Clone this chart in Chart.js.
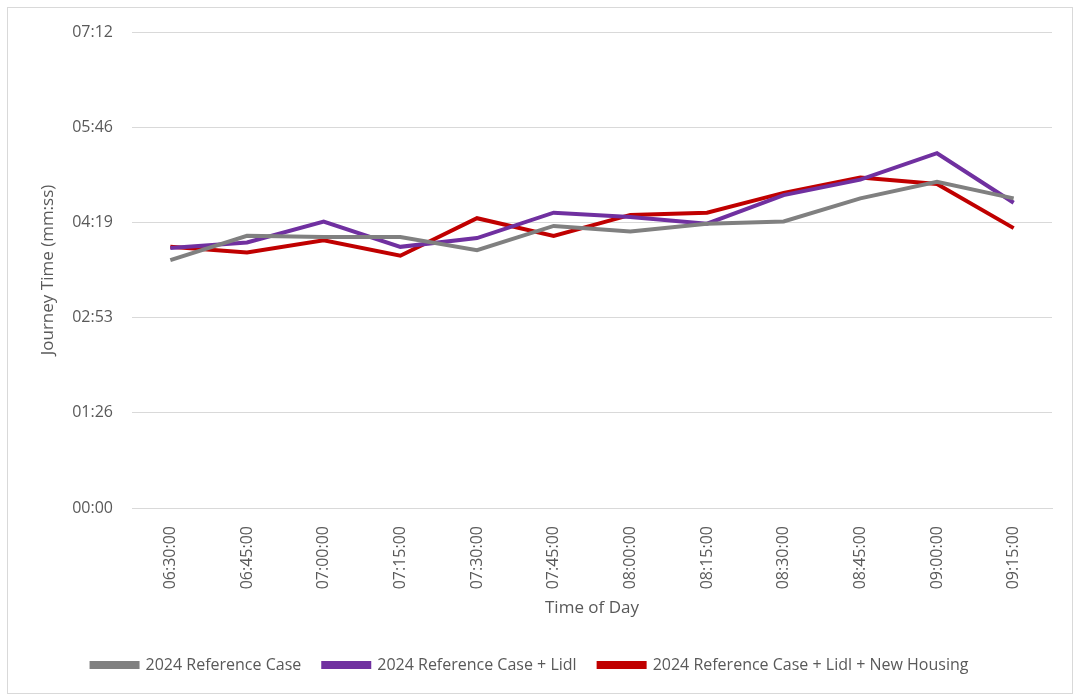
<!DOCTYPE html>
<html>
<head>
<meta charset="utf-8">
<script src="https://cdn.jsdelivr.net/npm/chart.js@4.4.1/dist/chart.umd.min.js"></script>
<style>
  html, body { margin: 0; padding: 0; background: #fff; }
  #frame {
    position: absolute; left: 7px; top: 7px;
    width: 1064px; height: 685px;
    border: 1px solid #d9d9d9;
  }
  #chart { display: block; }
</style>
</head>
<body>
<div id="frame"><canvas id="chart" width="1064" height="685"></canvas></div>
<script>
// 時間帯
var timeLabels = ['06:30:00', '06:45:00', '07:00:00', '07:15:00', '07:30:00', '07:45:00',
                  '08:00:00', '08:15:00', '08:30:00', '08:45:00', '09:00:00', '09:15:00'];

// 所要時間（秒）
var refCase = [225, 247, 246, 246, 234, 256, 251, 258, 260, 281, 296, 281];
var refLidl = [236, 241, 260, 237, 245, 268, 264, 258, 284, 298, 322, 277];
var refLidlHousing = [237, 232, 243, 229, 263, 247, 266, 268, 286, 300, 294, 254];

// 縦軸の目盛（秒） 0.001日刻み
var yTicks = [0, 86.4, 172.8, 259.2, 345.6, 432];
var yTickLabels = ['00:00', '01:26', '02:53', '04:19', '05:46', '07:12'];

var tickFont = { family: 'Open Sans', size: 16 };
var titleFont = { family: 'Open Sans', size: 17 };

function series(label, data, color) {
  return {
    label: label,
    data: data,
    borderColor: color,
    backgroundColor: color,
    borderWidth: 4,
    pointRadius: 0,
    tension: 0
  };
}

var ctx = document.getElementById('chart').getContext('2d');
var chart = new Chart(ctx, {
  type: 'line',
  data: {
    labels: timeLabels,
    datasets: [
      series('2024 Reference Case', refCase, '#808080'),
      series('2024 Reference Case + Lidl', refLidl, '#7030a0'),
      series('2024 Reference Case + Lidl + New Housing', refLidlHousing, '#c00000')
    ]
  },
  options: {
    responsive: false,
    animation: false,
    layout: { padding: { top: 24, right: 20, left: 0, bottom: 10 } },
    plugins: {
      tooltip: { enabled: false },
      legend: {
        position: 'bottom',
        labels: {
          boxWidth: 46,
          boxHeight: 4,
          padding: 22,
          color: '#595959',
          font: { family: 'Open Sans', size: 16 }
        }
      }
    },
    scales: {
      x: {
        offset: true,
        grid: { display: false },
        border: { display: true, color: '#d9d9d9' },
        ticks: {
          color: '#595959',
          font: tickFont,
          minRotation: 90,
          maxRotation: 90,
          padding: 10
        },
        title: {
          display: true,
          text: 'Time of Day',
          color: '#595959',
          font: titleFont,
          padding: { top: 0, bottom: 17 }
        },
        afterFit: function(scale) { scale.height = 127; }
      },
      y: {
        min: 0,
        max: 432,
        grid: { color: '#d9d9d9', drawTicks: false },
        border: { display: false },
        afterBuildTicks: function(scale) {
          scale.ticks = yTicks.map(function(v) { return { value: v }; });
        },
        ticks: {
          color: '#595959',
          font: tickFont,
          padding: 19,
          callback: function(value, index) { return yTickLabels[index]; }
        },
        title: {
          display: true,
          text: 'Journey Time (mm:ss)',
          color: '#595959',
          font: titleFont,
          padding: { top: 30, bottom: 0 }
        },
        afterFit: function(scale) {
          scale.width = 124;
          scale.paddingTop = 0;
          scale.paddingBottom = 0;
        }
      }
    }
  }
});
</script>
</body>
</html>
